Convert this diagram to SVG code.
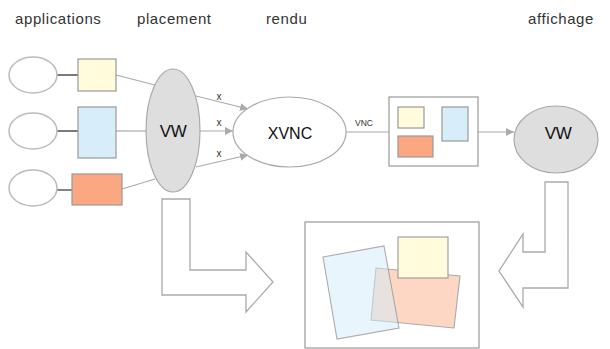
<svg xmlns="http://www.w3.org/2000/svg" width="610" height="349" viewBox="0 0 610 349">
<style>
.t{font-family:"Liberation Sans",Arial,sans-serif;fill:#333}
.h{font-size:15px;letter-spacing:0.6px}
.app{fill:#fff;stroke:#bbb;stroke-width:1.5}
.r{stroke:#999;stroke-width:1.2}
.c{stroke:#aaa;stroke-width:1.2;fill:none}
.g{fill:#dedede;stroke:#aaa;stroke-width:1.2}
.big{fill:#fff;stroke:#aaa;stroke-width:1.3}
.n{fill:#111}
</style>
<defs>
<marker id="ar" viewBox="0 0 10 10" refX="10" refY="5" markerWidth="8" markerHeight="8" markerUnits="userSpaceOnUse" orient="auto">
<path d="M0,0L10,5L0,10z" fill="#aaa"/>
</marker>
</defs>
<rect width="610" height="349" fill="#fff"/>
<g id="titles">
<text class="t h" x="15" y="24">applications</text>
<text class="t h" x="137" y="24">placement</text>
<text class="t h" x="266" y="24">rendu</text>
<text class="t h" x="528" y="24">affichage</text>
</g>
<g id="connectors">
<line x1="57" y1="75" x2="78" y2="75" stroke="#222" stroke-width="1.2"/>
<line x1="57" y1="131" x2="78" y2="131" stroke="#222" stroke-width="1.2"/>
<line x1="57" y1="190" x2="72" y2="190" stroke="#666" stroke-width="1.6"/>
<line class="c" x1="116" y1="75" x2="155" y2="85"/>
<line class="c" x1="116" y1="131" x2="146" y2="131"/>
<line class="c" x1="122" y1="189" x2="155" y2="179"/>
<line class="c" x1="196" y1="96" x2="248" y2="109" marker-end="url(#ar)"/>
<line class="c" x1="200" y1="131" x2="233" y2="131" marker-end="url(#ar)"/>
<line class="c" x1="196" y1="167" x2="248" y2="155" marker-end="url(#ar)"/>
<line class="c" x1="346" y1="132" x2="389" y2="132"/>
<line class="c" x1="478" y1="132" x2="514" y2="132" marker-end="url(#ar)"/>
<text class="t" x="219" y="100" font-size="10" text-anchor="middle">x</text>
<text class="t" x="219" y="126" font-size="10" text-anchor="middle">x</text>
<text class="t" x="219" y="157" font-size="10" text-anchor="middle">x</text>
<text class="t" x="364" y="126" font-size="8.5" text-anchor="middle">VNC</text>
</g>
<g id="app1"><ellipse class="app" cx="33" cy="75" rx="24" ry="18"/></g>
<g id="app2"><ellipse class="app" cx="33" cy="131" rx="24" ry="18"/></g>
<g id="app3"><ellipse class="app" cx="33" cy="188" rx="24" ry="18"/></g>
<g id="win1"><rect class="r" x="78" y="59" width="38" height="32" fill="#fffbdb"/></g>
<g id="win2"><rect class="r" x="78" y="107" width="38" height="51" fill="#d8edfa"/></g>
<g id="win3"><rect class="r" x="72" y="174" width="50" height="31" fill="#fba882"/></g>
<g id="vw1">
<ellipse class="g" cx="173" cy="130.5" rx="27" ry="61.5"/>
<text class="t n" x="173" y="137" font-size="17" text-anchor="middle" letter-spacing="-0.5">VW</text>
</g>
<g id="xvnc">
<ellipse cx="289.5" cy="132" rx="56.5" ry="35" fill="#fff" stroke="#aaa" stroke-width="1.2"/>
<text class="t n" x="290" y="138.5" font-size="16" text-anchor="middle">XVNC</text>
</g>
<g id="vncbox">
<rect class="r" x="389" y="97" width="89" height="69" fill="#fff"/>
<rect class="r" x="398" y="107" width="26" height="21" fill="#fffbdb"/>
<rect class="r" x="442" y="107" width="26" height="34" fill="#d8edfa"/>
<rect class="r" x="398" y="136" width="35" height="21" fill="#fba882"/>
</g>
<g id="vw2">
<ellipse class="g" cx="556" cy="139.5" rx="42" ry="33.5"/>
<text class="t n" x="558" y="139" font-size="17" text-anchor="middle" letter-spacing="-0.5">VW</text>
</g>
<g id="arrowL">
<polygon class="big" points="162,199 190,199 190,270 246,270 246,252 273,282 246,312 246,295 162,295"/>
</g>
<g id="arrowR">
<polygon class="big" points="545,182 568,182 568,288 523,288 523,307 499,271 523,234 523,252 545,252"/>
</g>
<g id="screen">
<rect x="305" y="222" width="174" height="126" fill="#fff" stroke="#999" stroke-width="1.2"/>
<polygon points="376,268 460,276 454,328 371,320" fill="#fdd6c4" stroke="#aaa" stroke-width="1.1"/>
<polygon points="323,257 384,246 399,328 337,339" fill="#d2ebfa" fill-opacity="0.5" stroke="#999" stroke-opacity="0.8" stroke-width="1.1"/>
<rect x="398" y="237" width="50" height="41" fill="#fffbdb" stroke="#999" stroke-width="1.1"/>
</g>
</svg>
